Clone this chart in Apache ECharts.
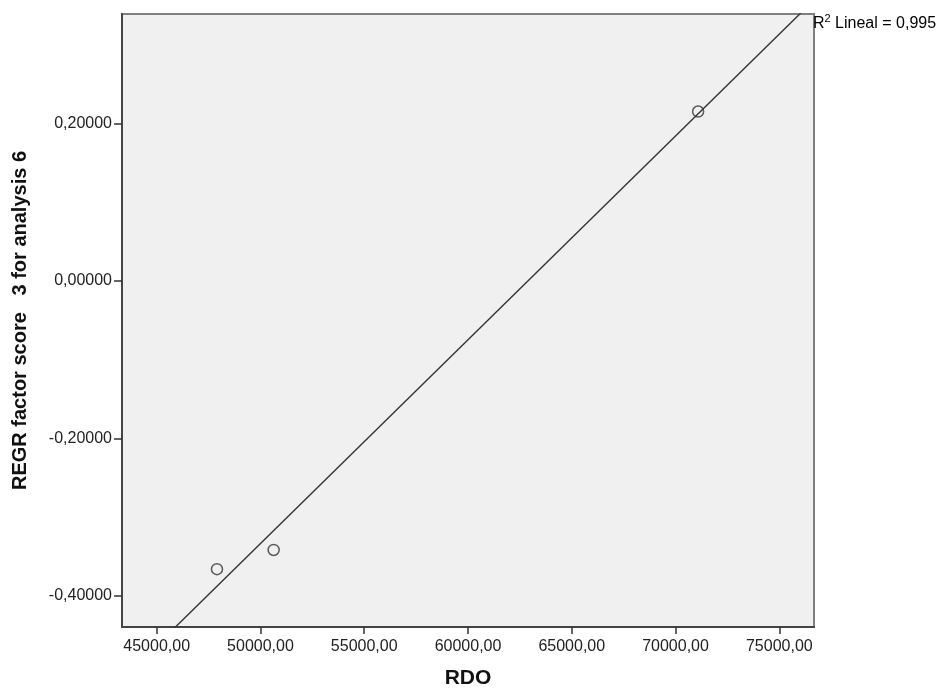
<!DOCTYPE html>
<html>
<head>
<meta charset="utf-8">
<script src="https://cdn.jsdelivr.net/npm/echarts@6/dist/echarts.min.js"></script>
<style>html,body{margin:0;padding:0;background:#fff}#c{width:945px;height:688px}</style>
</head>
<body>
<div id="c"></div>
<script>
const rdo = [47905, 50636, 71088];
const factorScore = [-0.366, -0.3416, 0.215];
const xTicks = [45000, 50000, 55000, 60000, 65000, 70000, 75000];
const yTicks = [-0.4, -0.2, 0, 0.2];
const r2Text = '0,995';

const xMin = 43329, xMax = 76671, yMin = -0.4394, yMax = 0.3388;

// least squares fit
const n = rdo.length;
const mx = rdo.reduce((a, b) => a + b, 0) / n;
const my = factorScore.reduce((a, b) => a + b, 0) / n;
let sxy = 0, sxx = 0;
for (let i = 0; i < n; i++) { sxy += (rdo[i] - mx) * (factorScore[i] - my); sxx += (rdo[i] - mx) ** 2; }
const slope = sxy / sxx, icpt = my - slope * mx;
const fitLine = [[xMin, icpt + slope * xMin], [xMax, icpt + slope * xMax]];

const font = 'Liberation Sans, Arial, sans-serif';
const chart = echarts.init(document.getElementById('c'));
chart.setOption({
  animation: false,
  backgroundColor: '#fff',
  grid: { left: 122, right: 131, top: 14, bottom: 61, containLabel: false, outerBoundsMode: 'none', show: true, backgroundColor: '#F0F0F0', borderColor: '#808080', borderWidth: 2 },
  xAxis: {
    type: 'value', min: xMin, max: xMax,
    name: 'RDO', nameLocation: 'middle', nameGap: 41,
    nameTextStyle: { fontFamily: font, fontSize: 21, fontWeight: 'bold', color: '#111' },
    axisLine: { show: true, onZero: false, lineStyle: { color: '#444', width: 2 } },
    axisTick: { show: true, length: 7, lineStyle: { color: '#333', width: 1.5 }, customValues: xTicks },
    axisLabel: { fontFamily: font, fontSize: 16, color: '#222', margin: 12, customValues: xTicks, formatter: v => v.toFixed(2).replace('.', ',') },
    splitLine: { show: false }
  },
  yAxis: {
    type: 'value', min: yMin, max: yMax,
    name: 'REGR factor score   3 for analysis 6', nameLocation: 'middle', nameGap: 92, nameRotate: 90,
    nameTextStyle: { fontFamily: font, fontSize: 20, fontWeight: 'bold', color: '#111' },
    axisLine: { show: true, onZero: false, lineStyle: { color: '#444', width: 2 } },
    axisTick: { show: true, length: 8, lineStyle: { color: '#333', width: 1.5 }, customValues: yTicks },
    axisLabel: { fontFamily: font, fontSize: 16, color: '#222', margin: 10, customValues: yTicks, formatter: v => v.toFixed(5).replace('.', ',') },
    splitLine: { show: false }
  },
  series: [
    {
      type: 'line', data: fitLine, symbol: 'none', clip: true,
      lineStyle: { color: '#333', width: 1.4 }, z: 2
    },
    {
      type: 'scatter', data: rdo.map((x, i) => [x, factorScore[i]]),
      symbol: 'circle', symbolSize: 11,
      itemStyle: { color: 'rgba(0,0,0,0)', borderColor: '#333', borderWidth: 1.5 }, z: 3
    }
  ],
  graphic: [{
    type: 'text', left: 813, top: 13,
    style: {
      text: '{n|R}{s|2}{n| Lineal = ' + r2Text + '}',
      rich: {
        n: { fontFamily: font, fontSize: 16, color: '#222', verticalAlign: 'bottom' },
        s: { fontFamily: font, fontSize: 11, color: '#222', verticalAlign: 'top', padding: [0, 0, 8, 0] }
      }
    }
  }]
});
</script>
</body>
</html>
